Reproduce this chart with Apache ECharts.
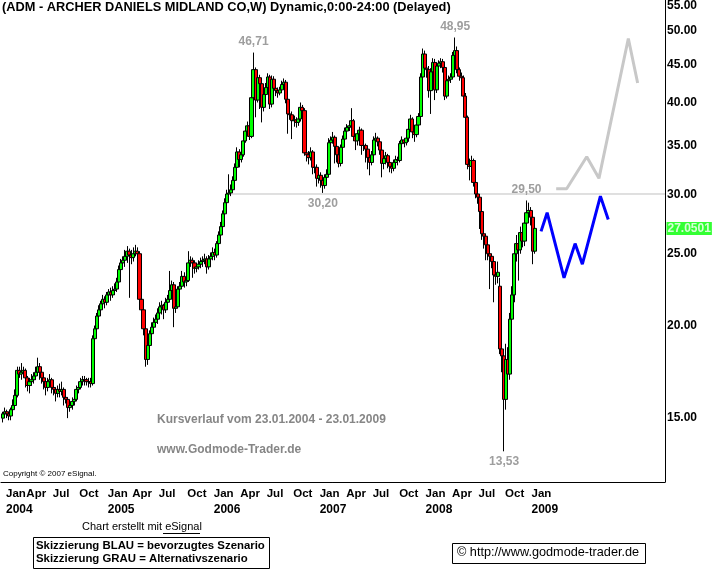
<!DOCTYPE html>
<html><head><meta charset="utf-8">
<script src="https://cdn.jsdelivr.net/npm/echarts@6/dist/echarts.min.js"></script>
<style>html,body{margin:0;padding:0;background:#fff}#c{width:715px;height:571px}</style>
</head><body><div id="c"></div>
<script>
const startDate = '2004-01-23';
const opens = [
15.0,15.2,15.3,15.2,15.1,15.4,15.6,16.1,17.4,17.2,
17.3,17.4,17.0,16.6,16.8,16.9,17.1,17.3,17.6,17.3,
17.0,16.8,16.5,16.8,16.9,16.5,16.4,16.2,16.4,16.3,
16.4,16.0,15.9,15.5,15.6,15.8,15.9,16.4,16.5,16.8,
16.9,16.9,16.8,16.8,16.7,19.2,19.8,20.6,21.0,21.4,
21.7,21.5,22.0,22.2,22.0,22.3,22.4,22.9,23.8,24.3,
24.5,24.8,25.2,24.9,24.7,25.0,25.2,25.0,21.7,21.0,
19.8,18.0,18.8,19.5,19.9,20.2,20.4,20.8,21.2,21.3,
21.0,21.5,21.7,22.3,22.7,21.1,21.2,22.4,22.6,23.3,
22.9,23.0,24.3,24.5,24.3,23.9,24.0,24.2,24.4,24.5,
24.6,24.0,24.6,24.8,25.1,24.9,25.8,26.5,27.2,28.3,
29.3,30.1,30.2,30.5,31.4,32.7,34.3,33.5,34.0,35.5,
36.6,37.2,36.0,40.6,44.3,40.3,43.2,42.4,39.4,41.0,
41.9,43.3,39.8,43.0,41.8,41.5,41.2,41.6,42.3,42.6,
40.4,38.6,38.5,37.8,37.9,37.6,38.0,39.4,39.0,34.2,
34.0,33.7,34.3,32.7,32.7,31.6,31.9,31.4,30.9,31.7,
32.0,35.3,35.6,35.9,34.9,34.0,33.1,34.8,35.7,36.6,
37.0,37.2,37.8,36.0,35.5,36.3,36.7,35.0,35.0,34.6,
33.7,33.2,34.0,35.6,35.8,35.4,34.5,33.1,33.6,33.9,
33.2,32.8,32.6,33.2,33.5,33.4,35.2,35.6,35.3,35.8,
36.8,38.0,36.5,36.2,37.3,38.3,43.3,46.5,44.5,44.3,
41.5,44.0,45.3,41.6,44.8,45.2,45.4,44.6,40.8,42.8,
43.0,43.3,46.3,47.0,44.3,43.4,43.2,40.8,38.2,33.0,
32.8,33.4,31.2,30.1,29.8,28.5,26.6,26.4,25.7,25.0,
24.8,24.4,23.4,23.3,22.6,18.6,18.2,15.9,18.0,17.2,
20.4,22.0,25.0,25.8,25.3,26.7,26.0,27.5,28.4,28.6,
28.0,25.2];
const closes = [
15.2,15.3,15.2,15.1,15.4,15.6,16.1,17.4,17.2,17.3,
17.4,17.0,16.6,16.8,16.9,17.1,17.3,17.6,17.3,17.0,
16.8,16.5,16.8,16.9,16.5,16.4,16.2,16.4,16.3,16.4,
16.0,15.9,15.5,15.6,15.8,15.9,16.4,16.5,16.8,16.9,
16.9,16.8,16.8,16.7,19.2,19.8,20.6,21.0,21.4,21.7,
21.5,22.0,22.2,22.0,22.3,22.4,22.9,23.8,24.3,24.5,
24.8,25.2,24.9,24.7,25.0,25.2,25.0,21.7,21.0,19.8,
18.0,18.8,19.5,19.9,20.2,20.4,20.8,21.2,21.3,21.0,
21.5,21.7,22.3,22.7,21.1,21.2,22.4,22.6,23.3,22.9,
23.0,24.3,24.5,24.3,23.9,24.0,24.2,24.4,24.5,24.6,
24.0,24.6,24.8,25.1,24.9,25.8,26.5,27.2,28.3,29.3,
30.1,30.2,30.5,31.4,32.7,34.3,33.5,34.0,35.5,36.6,
37.2,36.0,40.6,44.3,40.3,43.2,42.4,39.4,41.0,41.9,
43.3,39.8,43.0,41.8,41.5,41.2,41.6,42.3,42.6,40.4,
38.6,38.5,37.8,37.9,37.6,38.0,39.4,39.0,34.2,34.0,
33.7,34.3,32.7,32.7,31.6,31.9,31.4,30.9,31.7,32.0,
35.3,35.6,35.9,34.9,34.0,33.1,34.8,35.7,36.6,37.0,
37.2,37.8,36.0,35.5,36.3,36.7,35.0,35.0,34.6,33.7,
33.2,34.0,35.6,35.8,35.4,34.5,33.1,33.6,33.9,33.2,
32.8,32.6,33.2,33.5,33.4,35.2,35.6,35.3,35.8,36.8,
38.0,36.5,36.2,37.3,38.3,43.3,46.5,44.5,44.3,41.5,
44.0,45.3,41.6,44.8,45.2,45.4,44.6,40.8,42.8,43.0,
43.3,46.3,47.0,44.3,43.4,43.2,40.8,38.2,33.0,32.8,
33.4,31.2,30.1,29.8,28.5,26.6,26.4,25.7,25.0,24.8,
24.4,23.4,23.3,23.6,18.6,18.2,15.9,18.0,17.2,20.4,
22.0,25.0,25.8,25.3,26.7,26.0,27.5,28.4,28.6,28.0,
25.2,27.05];
const lows = [
14.8,15.1,15.0,14.9,14.9,15.3,15.5,16.0,17.0,16.9,
17.1,16.5,16.3,16.2,16.6,16.7,16.9,17.1,16.9,16.7,
16.4,16.1,16.3,16.6,16.2,16.1,15.8,16.0,16.0,16.1,
15.6,15.7,15.0,15.3,15.4,15.6,15.8,16.2,16.4,16.6,
16.6,16.6,16.5,16.5,16.6,19.0,19.5,20.4,20.8,21.2,
21.1,21.3,21.7,21.6,21.8,22.0,22.2,22.7,23.5,23.9,
24.0,24.3,21.8,24.2,24.4,24.8,24.6,21.5,20.7,19.4,
17.6,17.7,18.6,19.3,19.7,19.9,20.1,20.6,20.7,20.4,
20.8,21.2,21.6,22.0,19.9,20.8,21.1,21.7,22.4,22.5,
22.6,22.9,24.0,23.2,23.5,23.6,23.8,23.9,24.0,24.2,
23.5,23.8,24.3,24.5,24.5,24.7,25.6,26.3,27.0,28.1,
29.0,29.7,29.9,30.3,31.2,32.5,32.7,33.2,33.8,35.3,
36.2,35.6,35.8,40.3,38.2,40.0,39.2,37.6,38.9,40.2,
41.5,39.2,39.4,40.2,40.8,40.6,40.9,41.3,41.8,39.9,
36.3,37.9,35.7,37.1,37.0,37.2,37.7,38.5,33.9,33.3,
33.0,33.4,32.0,32.1,30.8,31.1,30.7,30.2,30.6,31.3,
31.8,34.8,35.2,33.1,33.2,32.7,32.8,34.5,35.4,36.2,
36.6,36.9,35.5,34.5,35.0,35.9,34.0,34.4,33.2,32.5,
31.9,32.9,33.7,35.2,34.9,34.0,31.7,32.5,33.0,32.6,
32.2,32.1,32.3,32.9,32.9,33.2,34.8,34.8,35.0,35.4,
36.5,35.8,35.4,35.9,37.0,38.1,43.0,44.0,43.2,40.6,
38.6,43.4,40.3,41.2,44.3,44.5,43.9,40.3,40.5,42.3,
42.5,43.0,45.8,43.8,42.8,42.6,40.2,37.6,32.5,31.4,
32.4,30.8,29.7,29.2,27.0,26.1,25.4,24.5,24.5,22.4,
23.9,21.5,22.7,22.8,18.3,17.3,13.53,15.4,16.5,16.9,
20.0,21.5,24.4,23.0,25.0,25.5,25.6,27.0,27.8,27.3,
24.2,25.0];
const highs = [
15.3,15.5,15.4,15.3,15.5,15.9,16.4,17.6,17.6,17.8,
17.6,17.5,17.1,17.0,17.2,17.3,17.6,18.1,17.8,17.4,
17.1,16.9,17.0,17.2,17.0,16.7,16.5,16.6,16.7,16.8,
16.5,16.2,16.0,15.8,16.0,16.1,16.6,16.7,17.0,17.1,
17.1,17.0,17.0,17.0,19.4,20.0,20.8,21.3,21.6,22.0,
21.9,22.2,22.4,22.5,22.6,22.8,23.2,24.1,24.6,24.8,
25.3,25.6,25.4,25.3,25.5,25.7,25.5,25.2,22.1,21.2,
20.0,19.1,19.7,20.2,20.5,20.7,21.1,21.5,21.6,21.4,
21.8,22.0,23.7,23.0,22.9,21.5,22.6,22.9,23.7,23.6,
23.3,25.2,24.8,24.7,24.5,24.3,24.5,24.7,24.8,25.0,
24.8,24.9,25.1,25.5,25.4,26.0,26.8,27.6,28.6,29.7,
30.5,32.0,31.0,31.8,33.1,34.8,34.6,34.5,35.9,37.0,
37.7,37.6,41.0,46.71,44.6,43.8,43.6,42.8,41.6,42.5,
43.8,43.6,43.5,43.4,42.2,41.9,42.0,42.8,43.1,42.9,
40.6,39.2,38.9,38.4,38.2,38.5,40.0,39.7,39.3,34.8,
34.4,34.8,34.5,33.3,33.0,32.3,32.2,31.6,32.0,32.5,
35.8,36.0,36.5,36.1,35.2,34.3,35.1,36.1,37.0,37.4,
37.7,39.3,38.0,36.3,36.6,37.1,36.9,35.5,35.2,34.9,
33.9,34.4,36.0,36.4,36.0,35.7,34.7,34.0,34.3,34.1,
33.4,33.1,33.5,33.9,33.8,35.5,36.0,35.8,36.2,37.4,
38.5,38.2,36.8,37.7,38.7,43.8,47.3,47.0,45.5,44.8,
44.5,45.9,45.8,45.3,45.6,45.9,45.8,44.9,43.2,43.5,
43.8,46.8,48.95,47.6,44.6,43.9,43.5,41.2,38.4,33.6,
33.9,33.6,31.5,30.4,30.1,28.8,27.0,26.6,25.9,25.3,
25.0,24.6,23.8,24.4,23.2,19.0,18.4,18.9,18.7,20.8,
22.6,25.6,26.5,26.3,27.2,27.4,28.1,29.5,29.3,28.9,
28.3,27.4];

const priceTicks = [15, 20, 25, 30, 35, 40, 45, 50, 55];
const monthTickDates = ['2004-01-23','2004-04-02','2004-07-02','2004-10-01','2005-01-07','2005-04-01','2005-07-01','2005-10-07',
  '2006-01-06','2006-04-07','2006-07-07','2006-10-06','2007-01-05','2007-04-06','2007-07-06','2007-10-05',
  '2008-01-04','2008-04-04','2008-07-04','2008-10-03','2009-01-02'];
const monthNames = ['Jan','Feb','Mar','Apr','May','Jun','Jul','Aug','Sep','Oct','Nov','Dec'];

const blueDates = ['2009-02-14','2009-03-07','2009-05-04','2009-06-11','2009-07-06','2009-09-06','2009-10-03'];
const blueValues = [26.8, 28.4, 23.2, 25.8, 24.2, 29.9, 27.8];
const grayDates = ['2009-04-07','2009-05-13','2009-07-21','2009-09-01','2009-12-11','2010-01-12'];
const grayValues = [30.6, 30.6, 33.8, 31.6, 48.8, 42.5];

const markDates = ['2006-06-02','2008-04-25','2008-12-26','2007-01-26','2008-10-10'];
const markValues = [46.71, 48.95, 29.50, 30.20, 13.53];
const markTexts = ['46,71','48,95','29,50','30,20','13,53'];
const markPlaces = ['top','top','top','bottom','bottom'];

const supportLevel = 30.1;
const supportStart = '2006-03-10';
const lastPrice = 27.0501;
const xStart = '2004-01-16', xEnd = '2010-04-16';
const yMin = 12.3, yMax = 55;

const T = s => { const p = s.split('-').map(Number); return Date.UTC(p[0], p[1] - 1, p[2]); };
const Y = v => Math.log(v);
const DAY = 86400000;
const weekTimes = closes.map((_, i) => T(startDate) + i * 7 * DAY);

const candleData = weekTimes.map((t, i) => [t, Y(opens[i]), Y(closes[i]), Y(lows[i]), Y(highs[i])]);
const FONT = "'Liberation Sans', Arial, sans-serif";
const GRAY = '#868686';

const chart = echarts.init(document.getElementById('c'), null, {renderer: 'canvas'});
chart.setOption({
  animation: false,
  backgroundColor: '#fff',
  grid: {left: 0, top: 0, right: 50, bottom: 89, containLabel: false},
  xAxis: {
    type: 'value', min: T(xStart), max: T(xEnd), scale: true,
    axisLine: {show: true, onZero: false, lineStyle: {color: '#000', width: 1}},
    axisTick: {show: false}, splitLine: {show: false},
    axisLabel: {
      // leading axis-start value keeps the edge-overlap check away from the real labels
      customValues: [T(xStart)].concat(monthTickDates.map(T)), showMinLabel: false, showMaxLabel: true,
      formatter: v => {
        if (v === T(xStart)) return '';
        const d = new Date(v); const m = d.getUTCMonth();
        return '{m|' + monthNames[m] + '}' + (m === 0 ? '\n{y|' + d.getUTCFullYear() + '}' : '');
      },
      rich: {
        m: {fontSize: 11.5, fontWeight: 'bold', fontFamily: FONT, color: '#000', lineHeight: 16},
        y: {fontSize: 12, fontWeight: 'bold', fontFamily: FONT, color: '#000', lineHeight: 16}
      },
      align: 'left', verticalAlign: 'top', margin: 4, lineHeight: 16, padding: [0, 0, 0, 3],
      color: '#000', fontWeight: 'bold', fontSize: 12, fontFamily: FONT, hideOverlap: false
    }
  },
  yAxis: {
    type: 'value', position: 'right', min: Y(yMin), max: Y(yMax), scale: true,
    axisLine: {show: true, onZero: false, lineStyle: {color: '#000', width: 1}},
    axisTick: {show: false}, splitLine: {show: false},
    axisLabel: {
      customValues: priceTicks.map(Y),
      formatter: v => Math.exp(v).toFixed(2),
      align: 'left', margin: 2, color: '#000', fontWeight: 'bold', fontSize: 12, fontFamily: FONT,
      verticalAlignMaxLabel: 'top'
    }
  },
  series: [
    {
      type: 'line', data: [[T(supportStart), Y(supportLevel)], [T(xEnd), Y(supportLevel)]],
      symbol: 'none', lineStyle: {color: '#c0c0c0', width: 1}, silent: true, z: 1
    },
    {
      type: 'candlestick', data: candleData, barWidth: 3.6, z: 3,
      itemStyle: {color: '#00ff00', color0: '#ff0000', borderColor: '#000', borderColor0: '#000', borderColorDoji: '#000', borderWidth: 1}
    },
    {
      type: 'line', data: blueDates.map((d, i) => [T(d), Y(blueValues[i])]),
      symbol: 'none', lineStyle: {color: '#0000ff', width: 3}, z: 4
    },
    {
      type: 'line', data: grayDates.map((d, i) => [T(d), Y(grayValues[i])]),
      symbol: 'none', lineStyle: {color: '#c8c8c8', width: 3}, z: 4
    },
    {
      type: 'scatter', symbolSize: 1, itemStyle: {color: 'rgba(0,0,0,0)'}, z: 5,
      data: markDates.map((d, i) => ({
        value: [T(d), Y(markValues[i])],
        label: {show: true, position: markPlaces[i], formatter: markTexts[i], distance: 4,
          color: GRAY, fontWeight: 'bold', fontSize: 12, fontFamily: FONT}
      }))
    },
    {
      type: 'scatter', clip: false, symbolSize: 1, itemStyle: {color: 'rgba(0,0,0,0)'}, z: 6,
      data: [[T(xEnd), Y(lastPrice)]],
      label: {show: true, position: 'right', distance: 1, formatter: String(lastPrice),
        backgroundColor: '#00ff00', color: '#fff', fontWeight: 'bold', fontSize: 12, fontFamily: FONT, padding: [1, 1, 0, 1]}
    }
  ],
  graphic: [
    {type: 'text', left: 2, top: 1, style: {text: '(ADM - ARCHER DANIELS MIDLAND CO,W) Dynamic,0:00-24:00 (Delayed)', font: 'bold 12.8px ' + FONT, fill: '#000'}},
    {type: 'text', left: 157, top: 414, style: {text: 'Kursverlauf vom 23.01.2004 - 23.01.2009', font: 'bold 12px ' + FONT, fill: GRAY}},
    {type: 'text', left: 157, top: 444, style: {text: 'www.Godmode-Trader.de', font: 'bold 12px ' + FONT, fill: GRAY}},
    {type: 'text', left: 3, top: 470, style: {text: 'Copyright © 2007 eSignal.', font: '8px ' + FONT, fill: '#000'}},
    {type: 'text', left: 82, top: 521, style: {text: 'Chart erstellt mit eSignal', font: '11px ' + FONT, fill: '#000'}},
    {type: 'line', shape: {x1: 163, y1: 533.5, x2: 200, y2: 533.5}, style: {stroke: '#000', lineWidth: 1}},
    {type: 'rect', shape: {x: 33.5, y: 537.5, width: 236, height: 31}, style: {fill: '#fff', stroke: '#000', lineWidth: 1}},
    {type: 'text', left: 36, top: 540, style: {text: 'Skizzierung BLAU = bevorzugtes Szenario', font: 'bold 11.4px ' + FONT, fill: '#000'}},
    {type: 'text', left: 36, top: 553, style: {text: 'Skizzierung GRAU = Alternativszenario', font: 'bold 11.4px ' + FONT, fill: '#000'}},
    {type: 'rect', shape: {x: 452.5, y: 543.5, width: 193, height: 20}, style: {fill: '#fff', stroke: '#000', lineWidth: 1}},
    {type: 'text', left: 457, top: 546, style: {text: '© http://www.godmode-trader.de', font: '12.7px ' + FONT, fill: '#000'}}
  ]
});
</script></body></html>
